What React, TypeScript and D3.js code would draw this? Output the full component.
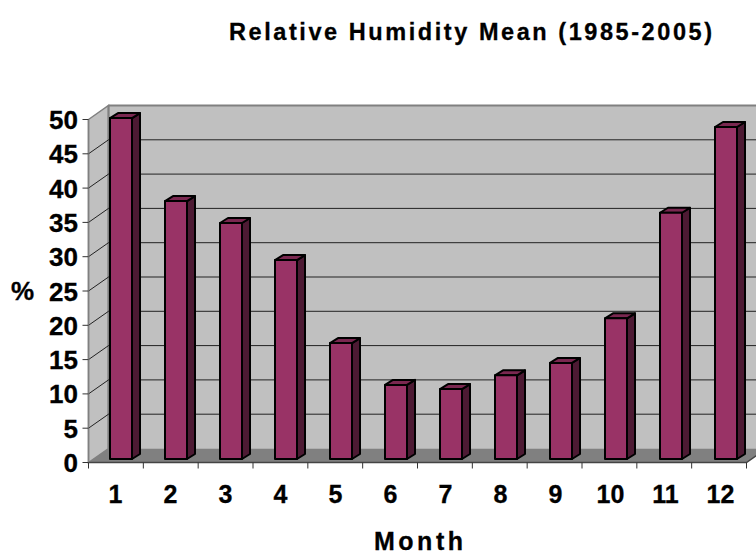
import React from "react";
import * as d3 from "d3";

const months = ["1","2","3","4","5","6","7","8","9","10","11","12"];
const humidity = [49.7,37.6,34.4,29,16.9,10.8,10.2,12.2,14,20.5,35.9,48.4];
const yTicks = [0,5,10,15,20,25,30,35,40,45,50];
const title = "Relative Humidity Mean (1985-2005)";
const xTitle = "Month";
const yTitle = "%";

const FONT = "'Liberation Sans', Arial, sans-serif";
const DX = 20, DY = -14;      // depth of the chart box
const BDX = 8, BDY = -5;      // depth of a bar
const x = d3.scaleBand().domain(months).range([88.5, 746.5]);
const xBars = d3.scaleBand().domain(months).range([88.5, 748.5]);
const y = d3.scaleLinear().domain([0, 50]).range([462.5, 119.5]);
const x0 = 88.5, xR = 746.5, y0 = y(0), yT = y(50);

export default function App() {
  const bw = 22;
  const baseY = y0 - 3.5;
  const unit = y(0) - y(1);
  return (
    <svg width={756} height={554} style={{ position: "absolute", left: 0, top: 0 }} fontFamily={FONT} fontWeight="bold" fill="#000">
      <rect x={x0 + DX} y={yT + DY} width={xR - x0} height={y0 - yT} fill="#c0c0c0" />
      <path d={`M${x0},${yT}L${x0 + DX},${yT + DY}V${y0 + DY}L${x0},${y0}Z`} fill="#c0c0c0" stroke="#808080" strokeWidth={1.5} />
      <path d={`M${x0},${y0}L${x0 + DX},${y0 + DY}H${xR + DX}L${xR},${y0}Z`} fill="#808080" />
      <path d={`M${x0 + DX},${yT + DY}H${xR + DX}`} stroke="#808080" strokeWidth={2} fill="none" />
      <path d={`M${x0 + DX},${yT + DY}V${y0 + DY}`} stroke="#808080" strokeWidth={2} fill="none" />
      {yTicks.filter(t => t > 0 && t < 50).map(t => (
        <path key={t} d={`M${x0},${y(t)}L${x0 + DX},${y(t) + DY}H${xR + DX}`} stroke="#222" strokeWidth={1} fill="none" />
      ))}
      <path d={`M${x0},${y0}H${xR}L${xR + DX},${y0 + DY}`} stroke="#444" strokeWidth={1.5} fill="none" />
      <path d={`M${x0},${yT}V${y0}`} stroke="#808080" strokeWidth={1.5} fill="none" />
      {yTicks.map(t => (
        <g key={t}>
          <path d={`M${x0 - 6},${y(t)}H${x0}`} stroke="#333" strokeWidth={1} />
          <text x={78} y={y(t) + 9.5} textAnchor="end" fontSize={26} stroke="#000" strokeWidth={0.3}>{t}</text>
        </g>
      ))}
      {d3.range(13).map(i => {
        const tx = x0 + i * x.step();
        return <path key={i} d={`M${tx},${y0}v6`} stroke="#333" strokeWidth={1} />;
      })}
      {months.map((m, i) => {
        const bx = (xBars(m) as number) + 21.5;
        const top = baseY - humidity[i] * unit;
        const st = { stroke: "#000", strokeWidth: 2, strokeLinejoin: "round" as const };
        return (
          <g key={m}>
            <path d={`M${bx + bw},${top}l${BDX},${BDY}V${baseY + BDY}l${-BDX},${-BDY}Z`} fill="#4d1a33" {...st} />
            <path d={`M${bx},${top}l${BDX},${BDY}h${bw}l${-BDX},${-BDY}Z`} fill="#7a2850" {...st} />
            <rect x={bx} y={top} width={bw} height={baseY - top} fill="#993366" {...st} />
            <text x={(xBars(m) as number) + xBars.bandwidth() / 2 - 0.5} y={503} textAnchor="middle" fontSize={25} stroke="#000" strokeWidth={0.3}>{m}</text>
          </g>
        );
      })}
      <text x={229} y={40} fontSize={23.5} textLength={483} lengthAdjust="spacing" stroke="#000" strokeWidth={0.3}>{title}</text>
      <text x={374} y={550} fontSize={25} textLength={89} lengthAdjust="spacing" stroke="#000" strokeWidth={0.3}>{xTitle}</text>
      <text x={11} y={300} fontSize={26} stroke="#000" strokeWidth={0.3}>{yTitle}</text>
    </svg>
  );
}
